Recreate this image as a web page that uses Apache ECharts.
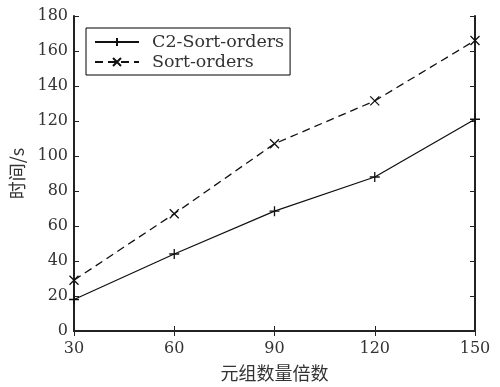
<!DOCTYPE html>
<html><head><meta charset="utf-8">
<script src="https://cdn.jsdelivr.net/npm/echarts@6/dist/echarts.min.js"></script>
<style>html,body{margin:0;padding:0;background:#fff}#c{width:500px;height:387px}</style>
</head><body><div id="c"></div>
<script>
const xValues = [30, 60, 90, 120, 150];
const c2SortOrders = [18, 44, 68.5, 88, 121];
const sortOrders = [29, 67, 107, 131.5, 166];
const seriesNames = ['C2-Sort-orders', 'Sort-orders'];
const xName = '元组数量倍数';
const yName = '时间/s';

const serif = '"DejaVu Serif", "Liberation Serif", serif';
const plusPath = 'path://M0,-5 L0,5 M-5,0 L5,0';
const crossPath = 'path://M-4,-4 L4,4 M-4,4 L4,-4';
const txt = '#333';

const chart = echarts.init(document.getElementById('c'), null, {renderer: 'canvas'});
const axisLine = {show: true, lineStyle: {color: '#222', width: 2}};
const tick = {show: true, inside: true, length: 5, lineStyle: {color: '#222', width: 1}};
chart.setOption({
  animation: false,
  backgroundColor: '#fff',
  grid: {left: 74, right: 25, top: 16, bottom: 52},
  legend: {
    left: 86, top: 28,
    orient: 'vertical',
    data: seriesNames,
    borderColor: '#000', borderWidth: 1, borderRadius: 0,
    padding: [5, 6, 4, 8],
    itemWidth: 44, itemHeight: 10, itemGap: 2,
    textStyle: {fontFamily: serif, fontSize: 17.5, color: txt, padding: [0, 0, 0, 8]}
  },
  xAxis: [{
    type: 'value', min: 30, max: 150, interval: 30,
    name: xName, nameLocation: 'middle', nameGap: 33,
    nameTextStyle: {fontFamily: '"Noto Sans CJK SC"', fontSize: 18, color: txt},
    axisLine, axisTick: tick, splitLine: {show: false},
    axisLabel: {fontFamily: serif, fontSize: 16, color: txt, margin: 10}
  }, {
    type: 'value', min: 30, max: 150, interval: 30, position: 'top',
    axisLine, axisTick: tick, splitLine: {show: false}, axisLabel: {show: false}
  }],
  yAxis: [{
    type: 'value', min: 0, max: 180, interval: 20,
    name: yName, nameLocation: 'middle', nameGap: 46, nameRotate: 90,
    nameTextStyle: {fontFamily: '"Noto Sans CJK SC"', fontSize: 18, color: txt},
    axisLine, axisTick: tick, splitLine: {show: false},
    axisLabel: {fontFamily: serif, fontSize: 16, color: txt, margin: 6}
  }, {
    type: 'value', min: 0, max: 180, interval: 20, position: 'right',
    axisLine, axisTick: tick, splitLine: {show: false}, axisLabel: {show: false}
  }],
  series: [{
    name: seriesNames[0], type: 'line',
    data: xValues.map((x, i) => [x, c2SortOrders[i]]),
    symbol: plusPath, symbolSize: 10, showAllSymbol: true,
    lineStyle: {color: '#111', width: 1.3, type: 'solid'},
    itemStyle: {color: 'none', borderColor: '#111', borderWidth: 1.3}
  }, {
    name: seriesNames[1], type: 'line',
    data: xValues.map((x, i) => [x, sortOrders[i]]),
    symbol: crossPath, symbolSize: 9, showAllSymbol: true,
    lineStyle: {color: '#111', width: 1.3, type: [8, 5]},
    itemStyle: {color: 'none', borderColor: '#111', borderWidth: 1.3}
  }]
});
</script></body></html>
